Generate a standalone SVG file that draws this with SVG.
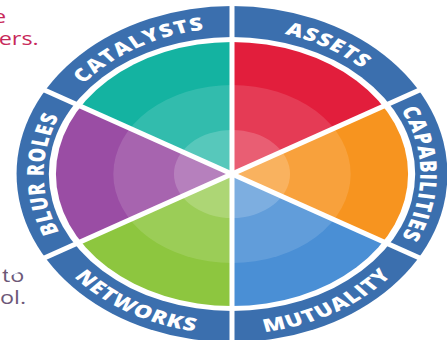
<svg xmlns="http://www.w3.org/2000/svg" width="447" height="340" viewBox="0 0 447 340">
  <style>
    .lbl { font-family: "Open Sans", "DejaVu Sans", sans-serif; font-weight: 800; font-size: 18px; fill: #ffffff; letter-spacing: 1px; }
    .side { font-family: "Open Sans", "DejaVu Sans", sans-serif; font-size: 18px; }
    .div { stroke: #ffffff; stroke-width: 5; vector-effect: non-scaling-stroke; fill: none; }
  </style>
  <defs>
    <!-- wheel face -->
    <clipPath id="disc"><ellipse cx="0" cy="0" rx="136.5" ry="132"/></clipPath>
    <!-- label baselines: clockwise arcs (glyphs outward) -->
    <path id="arcCatalysts" d="M-143.8,25.4 A146,146 0 0 1 93.8,-111.8"/>
    <path id="arcAssets" d="M-93.8,-111.8 A146,146 0 0 1 143.8,25.4"/>
    <path id="arcCapabilities" d="M49.9,-137.2 A146,146 0 0 1 49.9,137.2"/>
    <path id="arcBlur" d="M-49.9,137.2 A146,146 0 0 1 -49.9,-137.2"/>
    <!-- label baselines: counter-clockwise arcs (glyphs inward) -->
    <path id="arcNetworks" d="M-157.6,-27.8 A160,160 0 0 0 102.8,122.6"/>
    <path id="arcMutuality" d="M-102.8,122.6 A160,160 0 0 0 157.6,-27.8"/>
  </defs>

  <!-- side copy -->
  <g transform="scale(1.3,1)">
    <text class="side" x="-5.4" y="23" fill="#c8285a">e</text>
    <text class="side" x="-1" y="45" fill="#c8285a">ers.</text>
    <text class="side" x="1.5" y="282" fill="#6d5878">to</text>
    <text class="side" x="0" y="304" fill="#6d5878">ol.</text>
  </g>

  <g transform="translate(232,174) scale(1.29,1)">
    <!-- outer band -->
    <ellipse cx="0" cy="0" rx="167" ry="168" fill="#3b6fae"/>
    <ellipse cx="0" cy="0" rx="142" ry="137" fill="#ffffff"/>

    <g id="assets">
      <path d="M0,0 L0,-200 L173.2,-100 Z" fill="#e21e3c" clip-path="url(#disc)"/>
      <text class="lbl"><textPath href="#arcAssets" startOffset="50%" text-anchor="middle">ASSETS</textPath></text>
    </g>
    <g id="capabilities">
      <path d="M0,0 L173.2,-100 L173.2,100 Z" fill="#f7941f" clip-path="url(#disc)"/>
      <text class="lbl"><textPath href="#arcCapabilities" startOffset="50%" text-anchor="middle">CAPABILITIES</textPath></text>
    </g>
    <g id="mutuality">
      <path d="M0,0 L173.2,100 L0,200 Z" fill="#4a8fd5" clip-path="url(#disc)"/>
      <text class="lbl"><textPath href="#arcMutuality" startOffset="50%" text-anchor="middle">MUTUALITY</textPath></text>
    </g>
    <g id="networks">
      <path d="M0,0 L0,200 L-173.2,100 Z" fill="#8dc63f" clip-path="url(#disc)"/>
      <text class="lbl"><textPath href="#arcNetworks" startOffset="50%" text-anchor="middle">NETWORKS</textPath></text>
    </g>
    <g id="blur-roles">
      <path d="M0,0 L-173.2,100 L-173.2,-100 Z" fill="#9a4da4" clip-path="url(#disc)"/>
      <text class="lbl"><textPath href="#arcBlur" startOffset="50%" text-anchor="middle">BLUR ROLES</textPath></text>
    </g>
    <g id="catalysts">
      <path d="M0,0 L-173.2,-100 L0,-200 Z" fill="#14b3a1" clip-path="url(#disc)"/>
      <text class="lbl"><textPath href="#arcCatalysts" startOffset="50%" text-anchor="middle">CATALYSTS</textPath></text>
    </g>

    <!-- lighter inner rings -->
    <ellipse cx="0" cy="0" rx="92" ry="89" fill="#ffffff" fill-opacity="0.13"/>
    <ellipse cx="0" cy="0" rx="45" ry="44" fill="#ffffff" fill-opacity="0.18"/>

    <g id="connectors">
      <line class="div" x1="0" y1="-180" x2="0" y2="180"/>
      <line class="div" x1="-173.2" y1="-100" x2="173.2" y2="100"/>
      <line class="div" x1="-173.2" y1="100" x2="173.2" y2="-100"/>
    </g>
  </g>
</svg>
